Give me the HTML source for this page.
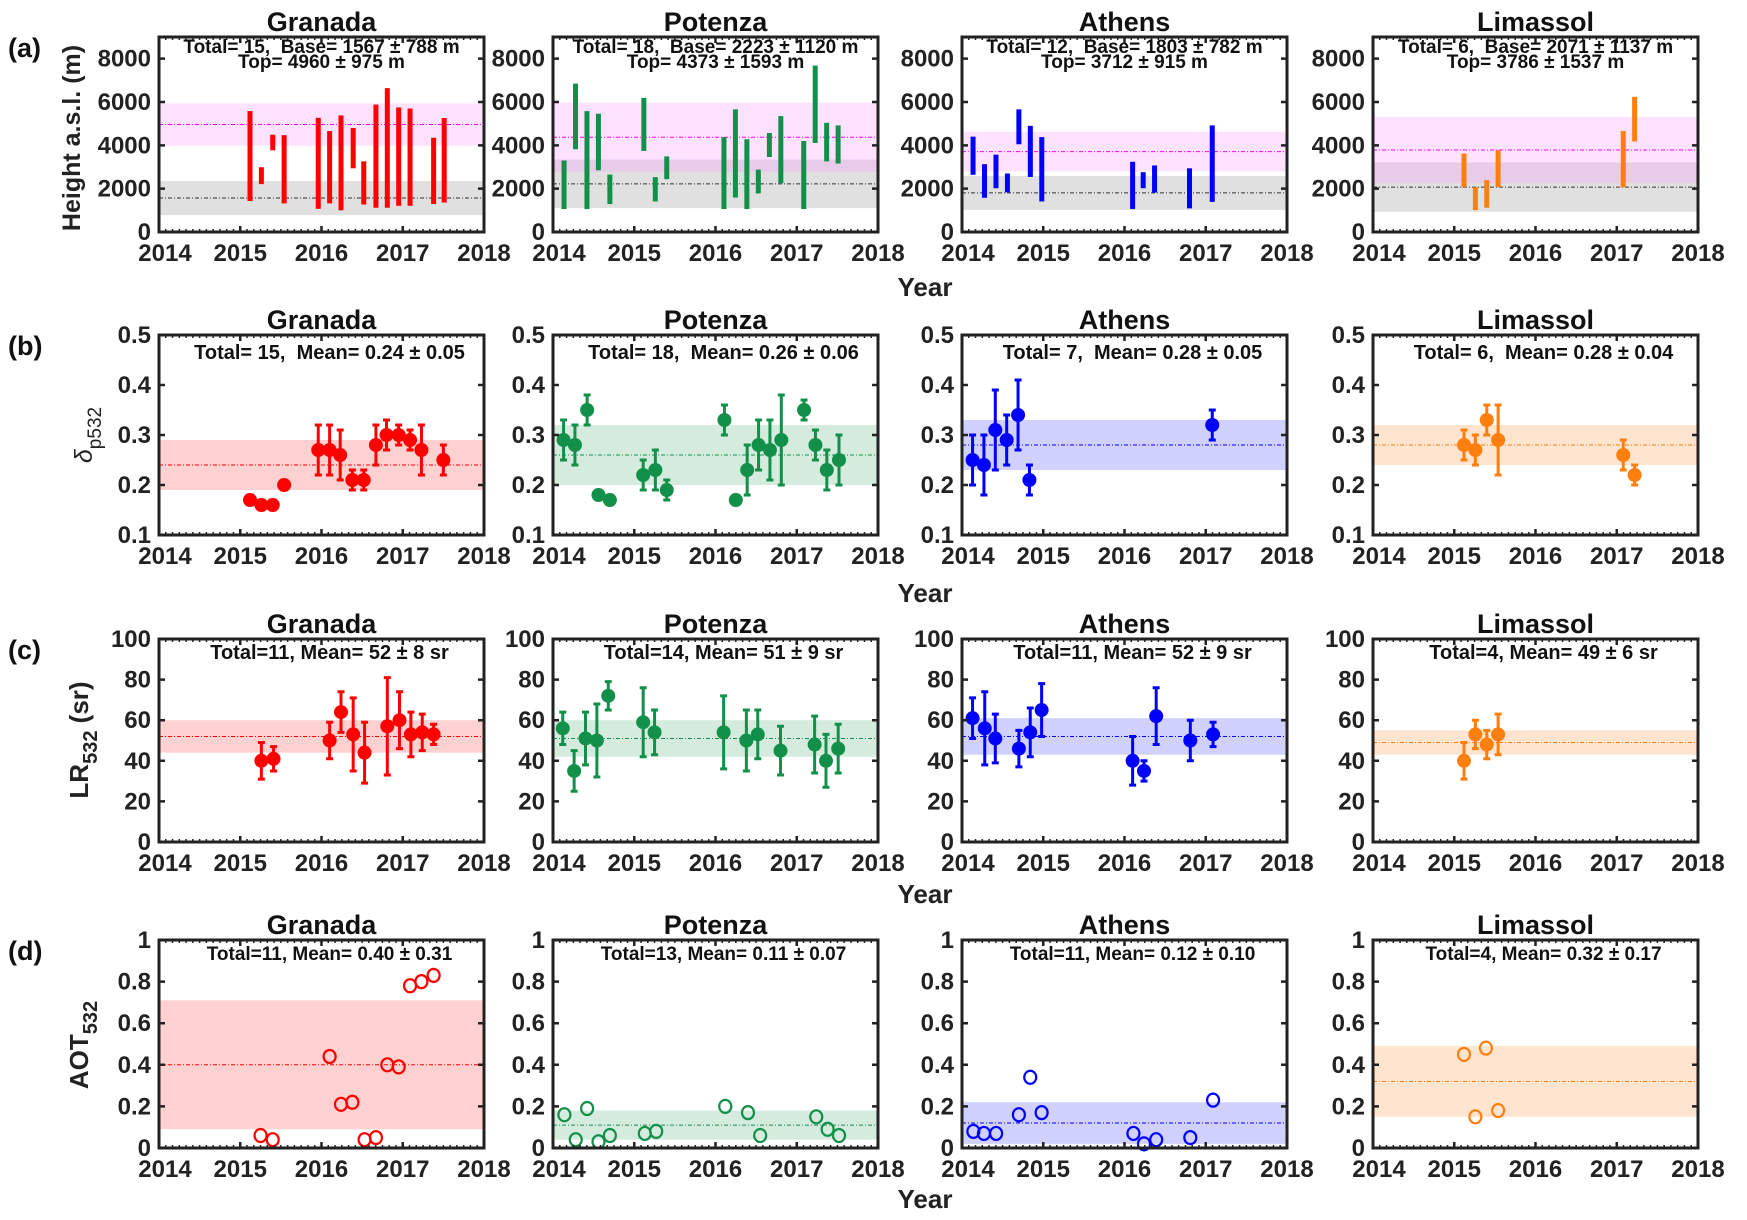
<!DOCTYPE html>
<html><head><meta charset="utf-8">
<style>
html,body{margin:0;padding:0;background:#fff;}
svg{display:block;font-family:"Liberation Sans",sans-serif;}
text{white-space:pre;}
</style></head>
<body>
<svg id="fig" width="1747" height="1220" viewBox="0 0 1747 1220" xmlns="http://www.w3.org/2000/svg"></svg>
<script>
const sites=["Granada","Potenza","Athens","Limassol"];
const siteColors=["#ff0000","#12904a","#0000ff","#ff7f0e"];
const bandColors=["rgba(255,0,0,0.18)","rgba(18,144,74,0.18)","rgba(0,0,255,0.18)","rgba(255,127,14,0.2)"];
const xTickLabels=[2014,2015,2016,2017,2018];

// (a) cloud base/top heights, x in years since 2014
const aX=[[1.12,1.26,1.40,1.54,1.96,2.10,2.24,2.39,2.52,2.67,2.81,2.95,3.09,3.38,3.51],
[0.136,0.277,0.418,0.559,0.70,1.118,1.259,1.40,2.104,2.245,2.386,2.527,2.663,2.804,3.086,3.227,3.368,3.509],
[0.136,0.277,0.418,0.559,0.70,0.841,0.982,2.10,2.23,2.37,2.80,3.08],
[1.12,1.26,1.40,1.54,3.08,3.22]];
const aTop=[[5580,2990,4490,4470,5270,4660,5380,4800,3260,5880,6640,5750,5700,4350,5260],
[3300,6850,5580,5460,2650,6190,2530,3490,4380,5660,4280,2880,4570,5350,4200,7680,5040,4920],
[4400,3130,3570,2700,5660,4900,4380,3240,2760,3070,2940,4920],
[3620,2070,2390,3770,4660,6240]];
const aBase=[[1430,2210,3770,1320,1070,1320,1000,2940,1270,1120,1120,1210,1210,1290,1360],
[1060,3820,1060,2850,1290,3740,1410,2440,1060,1590,1060,1780,3460,2250,1060,4110,3260,3160],
[2640,1580,2020,1830,4050,2540,1410,1060,2020,1820,1090,1390],
[2070,1010,1120,2070,2070,4180]];
const aTotal=[15,18,12,6];
const aBaseMean=[1567,2223,1803,2071], aBaseStd=[788,1120,782,1137];
const aTopMean=[4960,4373,3712,3786], aTopStd=[975,1593,915,1537];

// (b) particle depolarization
const bX=[[1.12,1.26,1.40,1.54,1.96,2.10,2.23,2.38,2.52,2.67,2.80,2.95,3.09,3.23,3.50],
[0.13,0.27,0.42,0.56,0.70,1.11,1.26,1.40,2.11,2.25,2.39,2.53,2.67,2.81,3.09,3.23,3.37,3.52],
[0.13,0.27,0.41,0.55,0.69,0.83,3.08],
[1.12,1.26,1.40,1.54,3.08,3.22]];
const bY=[[0.17,0.16,0.16,0.20,0.27,0.27,0.26,0.21,0.21,0.28,0.30,0.30,0.29,0.27,0.25],
[0.29,0.28,0.35,0.18,0.17,0.22,0.23,0.19,0.33,0.17,0.23,0.28,0.27,0.29,0.35,0.28,0.23,0.25],
[0.25,0.24,0.31,0.29,0.34,0.21,0.32],
[0.28,0.27,0.33,0.29,0.26,0.22]];
const bErr=[[0.01,0.01,0.01,0.01,0.05,0.05,0.05,0.02,0.02,0.04,0.03,0.02,0.02,0.05,0.03],
[0.04,0.04,0.03,0.01,0.01,0.03,0.04,0.02,0.03,0.01,0.05,0.05,0.06,0.09,0.02,0.03,0.04,0.05],
[0.05,0.06,0.08,0.05,0.07,0.03,0.03],
[0.03,0.03,0.03,0.07,0.03,0.02]];
const bTotal=[15,18,7,6], bMean=[0.24,0.26,0.28,0.28], bStd=[0.05,0.06,0.05,0.04];

// (c) lidar ratio
const cX=[[1.26,1.41,2.10,2.24,2.39,2.53,2.81,2.96,3.10,3.24,3.38],
[0.12,0.26,0.40,0.54,0.68,1.11,1.25,2.10,2.38,2.52,2.80,3.22,3.36,3.51],
[0.13,0.28,0.41,0.70,0.84,0.98,2.10,2.24,2.39,2.81,3.09],
[1.12,1.26,1.40,1.54]];
const cY=[[40,41,50,64,53,44,57,60,53,54,53],
[56,35,51,50,72,59,54,54,50,53,45,48,40,46],
[61,56,51,46,54,65,40,35,62,50,53],
[40,53,48,53]];
const cErr=[[9,6,9,10,18,15,24,14,11,9,5],
[8,10,13,18,7,17,11,18,15,12,12,14,13,12],
[10,18,12,9,12,13,12,5,14,10,6],
[9,7,7,10]];
const cTotal=[11,14,11,4], cMean=[52,51,52,49], cStd=[8,9,9,6];

// (d) AOT
const dX=[[1.25,1.40,2.10,2.24,2.38,2.53,2.67,2.81,2.95,3.09,3.23,3.38],
[0.14,0.28,0.42,0.56,0.70,1.13,1.27,2.12,2.40,2.55,3.24,3.38,3.52],
[0.14,0.27,0.42,0.70,0.84,0.98,2.11,2.24,2.39,2.81,3.09],
[1.12,1.26,1.39,1.54]];
const dY=[[0.06,0.04,0.44,0.21,0.22,0.04,0.05,0.40,0.39,0.78,0.80,0.83],
[0.16,0.04,0.19,0.03,0.06,0.07,0.08,0.20,0.17,0.06,0.15,0.09,0.06],
[0.08,0.07,0.07,0.16,0.34,0.17,0.07,0.02,0.04,0.05,0.23],
[0.45,0.15,0.48,0.18]];
const dTotal=[11,13,11,4], dMean=[0.40,0.11,0.12,0.32], dStd=[0.31,0.07,0.10,0.17];

const aTicks=[0,2000,4000,6000,8000];
const bTicks=[0.1,0.2,0.3,0.4,0.5];
const cTicks=[0,20,40,60,80,100];
const dTicks=[0,0.2,0.4,0.6,0.8,1];

// ---------- layout ----------
const NS="http://www.w3.org/2000/svg";
const svg=document.getElementById('fig');
const colX=[159,553,962,1373], PW=325;
const rows=[
 {key:'a',top:37,h:195,min:0,max:9000,ticks:aTicks,fmt:v=>String(v),ann:16},
 {key:'b',top:335,h:200,min:0.1,max:0.5,ticks:bTicks,fmt:v=>v.toFixed(1),ann:24},
 {key:'c',top:639,h:203,min:0,max:100,ticks:cTicks,fmt:v=>String(v),ann:20},
 {key:'d',top:940,h:208,min:0,max:1,ticks:dTicks,fmt:v=>(v===0||v===1)?String(v):v.toFixed(1),ann:20}
];
function mk(tag,attrs,parent){const e=document.createElementNS(NS,tag);for(const k in attrs)e.setAttribute(k,attrs[k]);(parent||svg).appendChild(e);return e;}
function txt(s,attrs,parent){const e=mk('text',attrs,parent);e.textContent=s;return e;}

rows.forEach((r,ri)=>{
 const letters=['(a)','(b)','(c)','(d)'];
 const pl=txt(letters[ri],{x:8,y:r.top+20,'font-size':27,'font-weight':'bold',fill:'#111'});
 
 
 const yrY=[287,593,894,1199][ri];
 const yl=txt('Year',{x:925,y:yrY+9,'text-anchor':'middle','font-size':26,'font-weight':'bold',fill:'#222'});
 
 
 sites.forEach((site,si)=>{
  const L=colX[si], T=r.top, H=r.h, R=L+PW, B=T+H;
  const g=mk('g',{});
  
  
  const xs=t=>L+t/4*PW;
  const ys=v=>B-(v-r.min)/(r.max-r.min)*H;
  const col=siteColors[si];
  const ti=txt(site,{x:L+PW/2,y:T-6,'text-anchor':'middle','font-size':27,'font-weight':'bold',fill:'#111'},g);
  
  
  if(r.key==='a'){
   const gb=mk('rect',{x:L,width:PW,y:ys(aBaseMean[si]+aBaseStd[si]),height:ys(aBaseMean[si]-aBaseStd[si])-ys(aBaseMean[si]+aBaseStd[si]),fill:'rgba(160,160,160,0.32)'},g);
   
   
   const pb=mk('rect',{x:L,width:PW,y:ys(aTopMean[si]+aTopStd[si]),height:ys(aTopMean[si]-aTopStd[si])-ys(aTopMean[si]+aTopStd[si]),fill:'rgba(255,150,255,0.28)'},g);
   
   
   const bl=mk('line',{x1:L,x2:R,y1:ys(aBaseMean[si]),y2:ys(aBaseMean[si]),stroke:'#333','stroke-width':1,'stroke-dasharray':'4 2 1 2'},g);
   
   
   const tl=mk('line',{x1:L,x2:R,y1:ys(aTopMean[si]),y2:ys(aTopMean[si]),stroke:'#ff00ff','stroke-width':1,'stroke-dasharray':'4 2 1 2'},g);
   
   
   aX[si].forEach((t,i)=>{
    const bar=mk('rect',{x:xs(t)-2.5,width:5,y:ys(aTop[si][i]),height:ys(aBase[si][i])-ys(aTop[si][i]),fill:col},g);
    
    
   });
  } else {
   const M=[null,bMean,cMean,dMean][ri][si], S=[null,bStd,cStd,dStd][ri][si];
   const lo=Math.max(r.min,M-S), hi=M+S;
   const band=mk('rect',{x:L,width:PW,y:ys(hi),height:ys(lo)-ys(hi),fill:bandColors[si]},g);
   
   
   const ml=mk('line',{x1:L,x2:R,y1:ys(M),y2:ys(M),stroke:col,'stroke-width':1,'stroke-dasharray':'4 2 1 2'},g);
   
   
   if(r.key==='d'){
    dX[si].forEach((t,i)=>{
     const c=mk('ellipse',{cx:xs(t),cy:ys(dY[si][i]),rx:6,ry:6.5,fill:'none',stroke:col,'stroke-width':2.2},g);
     
     
    });
   } else {
    const X=r.key==='b'?bX:cX, Y=r.key==='b'?bY:cY, E=r.key==='b'?bErr:cErr;
    X[si].forEach((t,i)=>{
     const x=xs(t), y1=ys(Y[si][i]+E[si][i]), y2=ys(Y[si][i]-E[si][i]);
     const eb=mk('path',{d:`M${x},${y1}V${y2}M${x-3.5},${y1}H${x+3.5}M${x-3.5},${y2}H${x+3.5}`,stroke:col,'stroke-width':3,fill:'none'},g);
     
     
     const p=mk('circle',{cx:x,cy:ys(Y[si][i]),r:7,fill:col},g);
     
     
    });
   }
  }
  const fr=mk('rect',{x:L,y:T,width:PW,height:H,fill:'none',stroke:'#222','stroke-width':3},g);
  
  
  let md='';
  for(let m=1;m<48;m++){const x=L+m/48*PW;md+=`M${x},${B}V${B-3}M${x},${T}V${T+3}`;}
  const mt=mk('path',{d:md,stroke:'#222','stroke-width':1.5},g);
  
  
  r.ticks.forEach(v=>{
   const y=ys(v);
   const tk=mk('path',{d:`M${L},${y}H${L+6}M${R},${y}H${R-6}`,stroke:'#222','stroke-width':2.5},g);
   
   
   const tl=txt(r.fmt(v),{x:L-8,y:y+8,'text-anchor':'end','font-size':24,'font-weight':'bold',fill:'#222'},g);
   
   
  });
  xTickLabels.forEach((yr,k)=>{
   const x=xs(k);
   const tk=mk('path',{d:`M${x},${B}V${B-6}M${x},${T}V${T+6}`,stroke:'#222','stroke-width':2.5},g);
   
   
   const lx=k===0?x+6:x;
   const tl=txt(String(yr),{x:lx,y:B+29,'text-anchor':'middle','font-size':24,'font-weight':'bold',fill:'#222'},g);
   
   
  });
  if(r.key==='a'){
   const t1=txt(`Total= ${aTotal[si]},  Base= ${aBaseMean[si]} ± ${aBaseStd[si]} m`,{x:L+PW/2,y:T+16,'text-anchor':'middle','font-size':19,'font-weight':'bold',fill:'#111'},g);
   
   
   const t2=txt(`Top= ${aTopMean[si]} ± ${aTopStd[si]} m`,{x:L+PW/2,y:T+31,'text-anchor':'middle','font-size':19,'font-weight':'bold',fill:'#111'},g);
   
   
  } else {
   let s;
   if(r.key==='b') s=`Total= ${bTotal[si]},  Mean= ${bMean[si].toFixed(2)} ± ${bStd[si].toFixed(2)}`;
   else if(r.key==='c') s=`Total=${cTotal[si]}, Mean= ${cMean[si]} ± ${cStd[si]} sr`;
   else s=`Total=${dTotal[si]}, Mean= ${dMean[si].toFixed(2)} ± ${dStd[si].toFixed(2)}`;
   const at=txt(s,{x:L+PW/2+8,y:T+r.ann,'text-anchor':'middle','font-size':r.key==='d'?19:20,'font-weight':'bold',fill:'#111'},g);
   
   
  }
 });
});

function ytitle(cx,cy,name,build){
 const t=mk('text',{transform:`translate(${cx},${cy}) rotate(-90)`,'text-anchor':'middle',fill:'#222'});
 
 
 build(t);
}
ytitle(80,138,'y-axis-title-a',t=>{t.setAttribute('font-size',25);t.setAttribute('font-weight','bold');t.textContent='Height a.s.l. (m)';});
ytitle(92,435,'y-axis-title-b',t=>{t.setAttribute('font-size',25);
 const a=document.createElementNS(NS,'tspan');a.setAttribute('font-style','italic');a.textContent='δ';t.appendChild(a);
 const b=document.createElementNS(NS,'tspan');b.setAttribute('dy',9);b.setAttribute('font-size',19);b.textContent='p532';t.appendChild(b);});
ytitle(88,740,'y-axis-title-c',t=>{t.setAttribute('font-size',26);t.setAttribute('font-weight','bold');
 const a=document.createElementNS(NS,'tspan');a.textContent='LR';t.appendChild(a);
 const b=document.createElementNS(NS,'tspan');b.setAttribute('dy',9);b.setAttribute('font-size',20);b.textContent='532';t.appendChild(b);
 const c=document.createElementNS(NS,'tspan');c.setAttribute('dy',-9);c.textContent=' (sr)';t.appendChild(c);});
ytitle(88,1045,'y-axis-title-d',t=>{t.setAttribute('font-size',26);t.setAttribute('font-weight','bold');
 const a=document.createElementNS(NS,'tspan');a.textContent='AOT';t.appendChild(a);
 const b=document.createElementNS(NS,'tspan');b.setAttribute('dy',9);b.setAttribute('font-size',20);b.textContent='532';t.appendChild(b);});
</script>
</body></html>
